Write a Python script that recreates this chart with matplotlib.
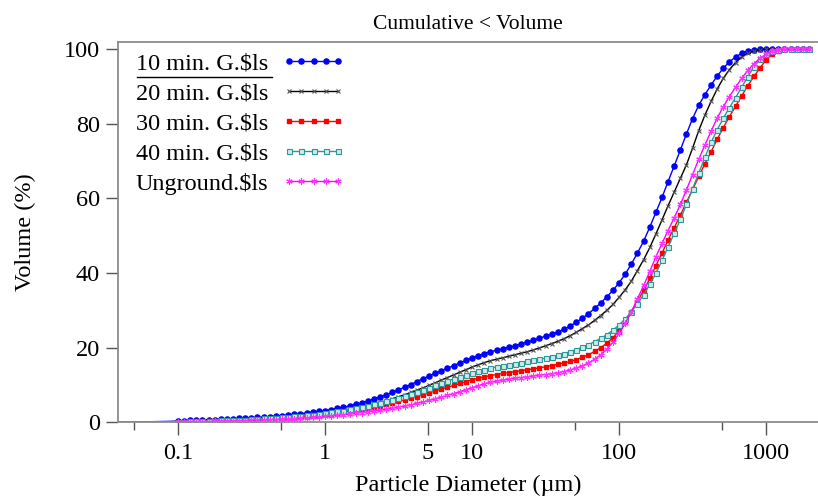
import matplotlib
matplotlib.use("Agg")
import matplotlib.pyplot as plt
from matplotlib.lines import Line2D
from matplotlib.ticker import FixedLocator, FixedFormatter, NullFormatter

plt.rcParams["font.family"] = ["Liberation Serif", "DejaVu Serif"]

# particle size channels (um), first point is the lower limit of the instrument
diam_um = [0.04,
           0.100, 0.110, 0.121, 0.133, 0.147, 0.162, 0.178, 0.196, 0.215, 0.237, 0.261, 0.287,
           0.316, 0.348, 0.383, 0.422, 0.464, 0.511, 0.562, 0.619, 0.681, 0.750, 0.825, 0.909,
           1.00, 1.10, 1.21, 1.33, 1.47, 1.62, 1.78, 1.96, 2.15, 2.37, 2.61, 2.87,
           3.16, 3.48, 3.83, 4.22, 4.64, 5.11, 5.62, 6.19, 6.81, 7.50, 8.25, 9.09,
           10.0, 11.0, 12.1, 13.3, 14.7, 16.2, 17.8, 19.6, 21.5, 23.7, 26.1, 28.7,
           31.6, 34.8, 38.3, 42.2, 46.4, 51.1, 56.2, 61.9, 68.1, 75.0, 82.5, 90.9,
           100, 110, 121, 133, 147, 162, 178, 196, 215, 237, 261, 287,
           316, 348, 383, 422, 464, 511, 562, 619, 681, 750, 825, 909,
           1000, 1100, 1210, 1330, 1470, 1620, 1780, 1960]

vol_10min = [0,
             0.3, 0.4, 0.5, 0.55, 0.6, 0.7, 0.75, 0.8, 0.9, 0.95, 1.05, 1.1,
             1.2, 1.3, 1.4, 1.5, 1.65, 1.8, 1.95, 2.1, 2.3, 2.5, 2.7, 2.9,
             3.15, 3.4, 3.7, 4.0, 4.4, 4.8, 5.2, 5.7, 6.2, 6.8, 7.4, 8.0,
             8.7, 9.4, 10.1, 10.9, 11.7, 12.4, 13.1, 13.8, 14.5, 15.2, 15.9, 16.6,
             17.3, 17.9, 18.4, 18.9, 19.3, 19.7, 20.1, 20.5, 21.0, 21.5, 22.0, 22.5,
             23.1, 23.6, 24.2, 24.9, 25.8, 26.8, 27.9, 29.1, 30.5, 32.0, 33.6, 35.4,
             37.4, 39.7, 42.4, 45.3, 48.6, 52.4, 56.3, 60.3, 64.5, 68.7, 73.0, 77.3,
             81.4, 85.0, 87.8, 90.4, 92.8, 94.9, 96.6, 97.9, 98.9, 99.5, 99.8, 100,
             100, 100, 100, 100, 100, 100, 100, 100]

vol_20min = [0,
             0.2, 0.3, 0.35, 0.4, 0.45, 0.5, 0.55, 0.6, 0.65, 0.7, 0.75, 0.85,
             0.9, 1.0, 1.1, 1.2, 1.3, 1.4, 1.5, 1.65, 1.8, 1.95, 2.1, 2.3,
             2.5, 2.7, 2.95, 3.2, 3.5, 3.8, 4.15, 4.5, 4.9, 5.35, 5.8, 6.3,
             6.85, 7.4, 8.0, 8.6, 9.25, 9.9, 10.6, 11.3, 12.0, 12.7, 13.4, 14.1,
             14.8, 15.4, 16.0, 16.5, 16.9, 17.3, 17.7, 18.1, 18.5, 18.9, 19.4, 19.9,
             20.5, 21.1, 21.7, 22.4, 23.2, 24.1, 25.1, 26.1, 27.3, 28.6, 30.0, 31.6,
             33.5, 35.5, 37.8, 40.6, 43.6, 46.9, 50.5, 54.3, 58.0, 61.7, 65.4, 69.0,
             73.5, 78.2, 82.3, 86.0, 89.3, 92.2, 94.5, 96.4, 97.9, 98.9, 99.5, 99.9,
             100, 100, 100, 100, 100, 100, 100, 100]

vol_30min = [0,
             0.1, 0.15, 0.2, 0.25, 0.3, 0.35, 0.4, 0.45, 0.5, 0.55, 0.6, 0.65,
             0.7, 0.8, 0.85, 0.95, 1.05, 1.15, 1.25, 1.35, 1.5, 1.6, 1.75, 1.9,
             2.1, 2.3, 2.5, 2.7, 2.95, 3.2, 3.5, 3.8, 4.1, 4.45, 4.8, 5.2,
             5.6, 6.0, 6.45, 6.9, 7.4, 7.9, 8.4, 8.9, 9.4, 9.9, 10.4, 10.9,
             11.4, 11.8, 12.2, 12.5, 12.8, 13.1, 13.3, 13.6, 13.8, 14.1, 14.3, 14.6,
             14.9, 15.2, 15.5, 15.9, 16.3, 16.8, 17.4, 18.1, 19.0, 20.0, 21.2, 22.7,
             24.5, 26.8, 29.5, 32.3, 35.4, 38.6, 42.0, 45.4, 48.8, 52.2, 55.5, 59.0,
             62.4, 65.9, 69.3, 72.5, 75.8, 79.0, 81.9, 84.7, 87.5, 90.2, 92.7, 95.0,
             97.2, 98.7, 99.6, 100, 100, 100, 100, 100]

vol_40min = [0,
             0.1, 0.2, 0.25, 0.3, 0.35, 0.4, 0.45, 0.5, 0.55, 0.6, 0.7, 0.75,
             0.85, 0.95, 1.05, 1.15, 1.25, 1.35, 1.45, 1.6, 1.75, 1.9, 2.05, 2.25,
             2.45, 2.65, 2.9, 3.15, 3.45, 3.75, 4.05, 4.4, 4.8, 5.2, 5.65, 6.1,
             6.6, 7.1, 7.6, 8.1, 8.7, 9.3, 9.9, 10.5, 11.1, 11.6, 12.2, 12.7,
             13.2, 13.7, 14.1, 14.5, 14.8, 15.1, 15.4, 15.7, 16.0, 16.3, 16.6, 16.9,
             17.2, 17.6, 18.0, 18.4, 18.9, 19.5, 20.1, 20.8, 21.6, 22.5, 23.5, 24.7,
             26.1, 27.7, 29.6, 31.8, 34.2, 37.0, 40.0, 43.4, 47.0, 50.6, 54.4, 58.4,
             62.6, 66.8, 71.0, 75.0, 78.4, 81.5, 84.3, 87.0, 89.8, 92.6, 95.3, 97.4,
             98.7, 99.4, 99.8, 100, 100, 100, 100, 100]

vol_unground = [0,
                0.05, 0.1, 0.1, 0.15, 0.2, 0.2, 0.25, 0.3, 0.3, 0.35, 0.4, 0.45,
                0.5, 0.55, 0.6, 0.7, 0.75, 0.85, 0.9, 1.0, 1.1, 1.2, 1.3, 1.45,
                1.6, 1.75, 1.9, 2.05, 2.2, 2.4, 2.6, 2.8, 3.0, 3.25, 3.5, 3.75,
                4.05, 4.35, 4.7, 5.05, 5.45, 5.85, 6.3, 6.75, 7.2, 7.7, 8.2, 8.75,
                9.3, 9.8, 10.3, 10.7, 11.0, 11.3, 11.6, 11.8, 12.0, 12.2, 12.4, 12.6,
                12.8, 13.0, 13.3, 13.6, 14.0, 14.5, 15.1, 15.9, 16.9, 18.1, 19.6, 21.5,
                23.8, 26.5, 29.6, 33.0, 36.7, 40.5, 44.4, 48.0, 51.4, 54.8, 58.4, 62.3,
                66.4, 70.5, 74.3, 78.0, 81.5, 84.6, 87.3, 89.8, 92.2, 94.3, 96.1, 97.6,
                98.7, 99.4, 99.8, 100, 100, 100, 100, 100]

series_labels = ["10 min. G.\\$ls", "20 min. G.\\$ls", "30 min. G.\\$ls",
                 "40 min. G.\\$ls", "Unground.\\$ls"]

tick_pos = [0.1, 1, 5, 10, 100, 1000]
tick_labels = ["0.1", "1", "5", "10", "100", "1000"]
minor_pos = [0.05, 0.5, 50, 500]

styles = [
    dict(color="#0000ff", marker="o", ms=3.7, mfc="#0000ff", mec="#0000ff"),
    dict(color="#000000", marker="x", ms=3.0, mec="#555555", mew=0.8),
    dict(color="#ff0000", marker="s", ms=3.4, mfc="#ff0000", mec="#ff0000"),
    dict(color="#2a9898", marker="s", ms=3.6, mfc="#cfe9e9", mec="#2a9898", mew=0.8),
    dict(color="#ff00ff", marker=(6, 2, 0), ms=4.6, mec="#ff33ff", mew=0.8),
]

fig = plt.figure(figsize=(8.18, 4.97), dpi=100)
ax = fig.add_axes([118 / 818, 74.7 / 497, 700 / 818, 380.6 / 497])

all_vols = [vol_10min, vol_20min, vol_30min, vol_40min, vol_unground]
for vols, label, st in zip(all_vols, series_labels, styles):
    ax.plot(diam_um, vols, label=label, lw=1.0,
            markevery=range(1, len(diam_um)), **st)

ax.set_xscale("log")
ax.set_xlim(0.0392, 2250)
ax.set_ylim(0, 102)
ax.xaxis.set_major_locator(FixedLocator(tick_pos))
ax.xaxis.set_major_formatter(FixedFormatter(tick_labels))
ax.xaxis.set_minor_locator(FixedLocator(minor_pos))
ax.xaxis.set_minor_formatter(NullFormatter())
ax.set_yticks([0, 20, 40, 60, 80, 100])

for side in ["left", "bottom", "top"]:
    ax.spines[side].set_color("#8c8c8c")
    ax.spines[side].set_linewidth(1.3)
ax.spines["right"].set_visible(False)

ax.tick_params(axis="x", which="major", length=9, width=1, color="#555555",
               labelsize=17.5, pad=6)
ax.tick_params(axis="x", which="minor", length=6, width=1, color="#555555")
ax.tick_params(axis="y", which="major", length=9, width=1, color="#555555",
               labelsize=17.5, pad=4)

ax.set_xlabel("Particle Diameter (\u00b5m)", fontsize=17.5, labelpad=8)
ax.set_ylabel("Volume (%)", fontsize=17.5, labelpad=20)
ax.set_title("Cumulative < Volume", fontsize=15.5, pad=9)

ax.legend(loc="upper left", bbox_to_anchor=(0.01, 1.0), frameon=False,
          fontsize=17.5, markerfirst=False, numpoints=5, handlelength=2.6,
          handletextpad=0.55, labelspacing=0.33, borderaxespad=0.15, borderpad=0.3)

# the underline below the first legend entry
fig.add_artist(Line2D([137 / 818, 272 / 818], [1 - 77 / 497, 1 - 77 / 497],
                      color="black", lw=1.0))

fig.savefig("out.png", dpi=100)
